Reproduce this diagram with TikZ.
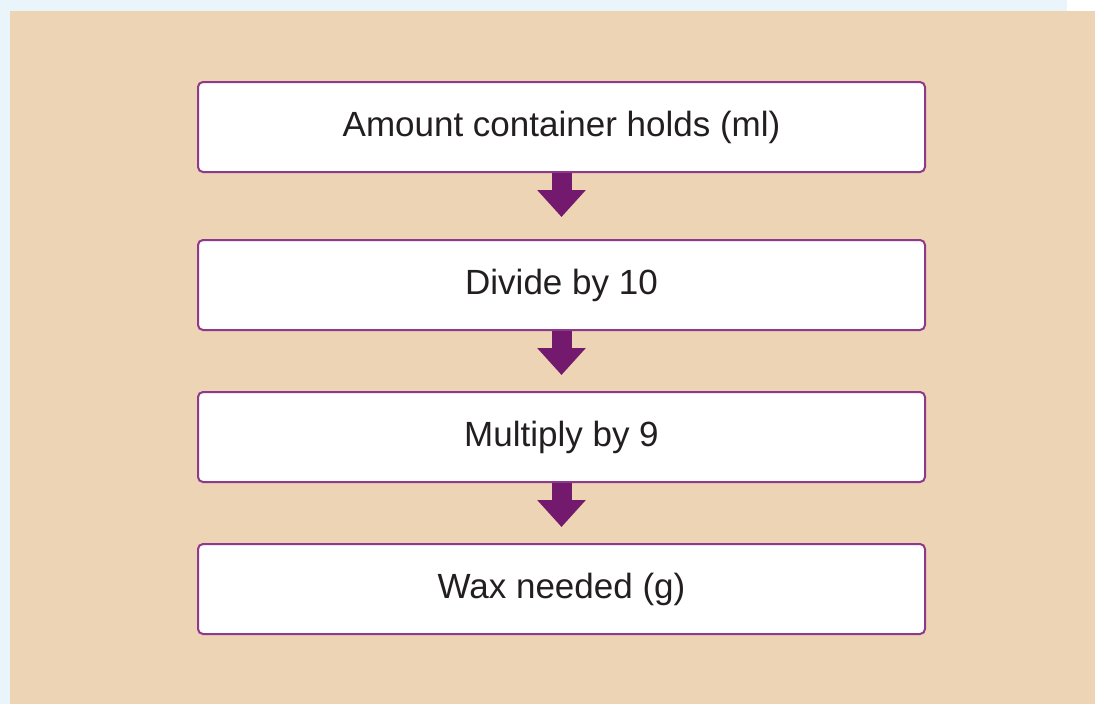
\documentclass[tikz,border=0pt]{standalone}
\usepackage{fontspec}
\setmainfont{Liberation Sans}
\usepackage{tikz}
\usetikzlibrary{positioning,arrows.meta}

\definecolor{skyback}{HTML}{EAF5FB}
\definecolor{tanpanel}{HTML}{EDD4B4}
\definecolor{boxedge}{HTML}{8E3A8C}
\definecolor{arrowpurple}{HTML}{741A6E}
\definecolor{textgrey}{HTML}{231F20}

\begin{document}
\begin{tikzpicture}[x=1pt, y=-1pt,
    stepbox/.style={rectangle, draw=boxedge, line width=2pt, fill=white, rounded corners=5pt,
        minimum width=727pt, minimum height=90pt, text=textgrey, font=\fontsize{35}{42}\selectfont},
    flowarrow/.style={draw=arrowpurple, line width=20pt, -{Triangle[width=47pt,length=27pt]}}]
            % Background
            \fill[skyback] (0,0) rectangle (1095,704);
            \fill[tanpanel] (10,11) rectangle (1095,704);
            \fill[white] (1067,0) rectangle (1095,11);
            \useasboundingbox (0,0) rectangle (1095,704);

            % Define blocks
            \node (amount) [stepbox] at (561.5,127) {Amount container holds (ml)};
            \node (divide) [stepbox, below=66pt of amount] {Divide by 10};
            \node (multiply) [stepbox, below=60pt of divide] {Multiply by 9};
            \node (wax) [stepbox, below=60pt of multiply] {Wax needed (g)};

            % Draw arrows
            \draw[flowarrow, shorten >=22pt] (amount) -- (divide);
            \draw[flowarrow, shorten >=16pt] (divide) -- (multiply);
            \draw[flowarrow, shorten >=16pt] (multiply) -- (wax);
        \end{tikzpicture}
\end{document}
